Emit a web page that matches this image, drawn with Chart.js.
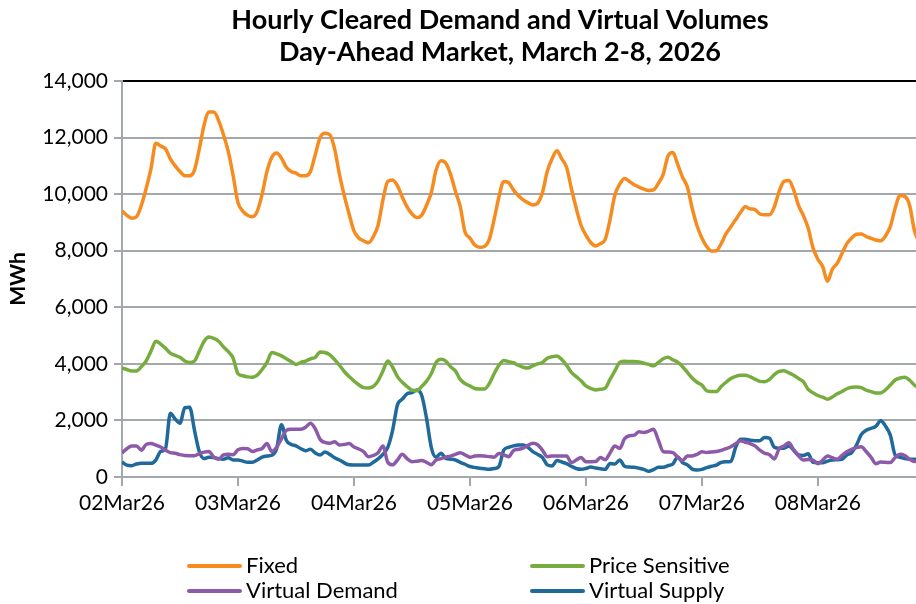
<!DOCTYPE html>
<html>
<head>
<meta charset="utf-8">
<script src="https://cdn.jsdelivr.net/npm/chart.js@4/dist/chart.umd.min.js"></script>
<style>
  html, body { margin: 0; padding: 0; background: #fff; overflow: hidden; }
  #wrap { position: relative; width: 916px; height: 604px; overflow: hidden; }
  #holder { position: absolute; left: 0; top: 0; width: 1000px; height: 604px; }
  .lg { position: absolute; font: 22px Lato, sans-serif; line-height: 26px; color: #000; white-space: nowrap; }
  .lg span.sw { display: inline-block; width: 55px; height: 4px; border-radius: 2px; vertical-align: middle; margin-right: 4px; position: relative; top: -1px; }
</style>
</head>
<body>
<div id="wrap">
  <div id="holder"><canvas id="chart" width="1000" height="604"></canvas></div>
  <div id="legend"></div>
</div>
<script>
// tick labels for each day
var days = ["02Mar26", "03Mar26", "04Mar26", "05Mar26", "06Mar26", "07Mar26", "08Mar26"];
var yTicks = [0, 2000, 4000, 6000, 8000, 10000, 12000, 14000];

// hourly cleared volumes (MWh), one row per day
var fixed = [
  9400, 9250, 9150, 9200, 9600, 10200, 10900, 11800, 11700, 11600, 11250, 11000, 10800, 10650, 10650, 10850, 11600, 12450, 12900, 12900, 12600, 12100, 11500, 10650,
  9700, 9400, 9250, 9200, 9400, 10000, 10800, 11300, 11450, 11270, 10950, 10800, 10740, 10650, 10650, 10800, 11400, 12000, 12150, 12100, 11600, 10700, 9950, 9300,
  8700, 8450, 8350, 8280, 8500, 8900, 9800, 10450, 10500, 10300, 9900, 9550, 9300, 9170, 9250, 9600, 10050, 10850, 11180, 11100, 10700, 10100, 9560, 8650,
  8450, 8200, 8120, 8150, 8400, 9100, 9900, 10450, 10410, 10150, 9950, 9800, 9700, 9620, 9680, 10050, 10800, 11250, 11530, 11250, 10950, 10200, 9500, 8900,
  8550, 8290, 8170, 8250, 8400, 9100, 9970, 10350, 10550, 10450, 10330, 10250, 10180, 10130, 10150, 10380, 10700, 11350, 11470, 11050, 10600, 10250, 9500, 8880,
  8450, 8150, 7990, 8000, 8250, 8600, 8850, 9100, 9350, 9550, 9480, 9450, 9300, 9270, 9270, 9550, 10100, 10450, 10480, 10150, 9600, 9250, 8800, 8100,
  7700, 7440, 6920, 7350, 7550, 7900, 8250, 8450, 8580, 8590, 8500, 8440, 8380, 8350, 8520, 8850, 9500, 9950, 9920, 9600, 8700, 8300, 8000, 7800
];
var priceSensitive = [
  3850, 3800, 3750, 3750, 3900, 4100, 4450, 4800, 4700, 4550, 4380, 4300, 4230, 4100, 4050, 4100, 4450, 4800, 4950, 4900, 4800, 4600, 4430, 4200,
  3650, 3580, 3540, 3530, 3600, 3800, 4050, 4400, 4350, 4280, 4180, 4080, 3980, 4050, 4100, 4180, 4230, 4420, 4400, 4320, 4150, 3950, 3730, 3550,
  3400, 3260, 3160, 3150, 3200, 3400, 3750, 4100, 3880, 3550, 3350, 3200, 3070, 3050, 3200, 3380, 3650, 4050, 4160, 4100, 3900, 3750, 3450, 3300,
  3220, 3130, 3110, 3110, 3300, 3650, 3950, 4120, 4080, 4040, 3950, 3880, 3850, 3930, 4000, 4050, 4200, 4250, 4280, 4150, 3950, 3700, 3550, 3400,
  3220, 3130, 3080, 3100, 3140, 3450, 3750, 4050, 4090, 4080, 4080, 4070, 4020, 3980, 3930, 4050, 4180, 4230, 4140, 4060, 3900, 3700, 3500, 3350,
  3250, 3050, 3020, 3020, 3200, 3350, 3480, 3560, 3600, 3600, 3540, 3460, 3380, 3370, 3450, 3620, 3730, 3760, 3680, 3600, 3480, 3370, 3100, 2980,
  2880, 2820, 2750, 2830, 2940, 3020, 3120, 3170, 3180, 3160, 3070, 3020, 2970, 2970, 3080, 3250, 3430, 3500, 3530, 3420, 3250, 3150, 3100, 3050
];
var virtualDemand = [
  850, 1000, 1100, 1100, 950, 1150, 1180, 1130, 1060, 950, 860, 840, 790, 760, 755, 755, 830, 880, 900, 700, 630, 780, 800, 790,
  960, 1010, 1000, 900, 960, 1010, 1180, 900, 1050, 1350, 1650, 1690, 1690, 1690, 1760, 1900, 1700, 1330, 1220, 1190, 1250, 1130, 1150, 1180,
  1060, 990, 900, 720, 760, 860, 1100, 520, 430, 600, 800, 650, 540, 560, 580, 520, 430, 600, 650, 700, 740, 800, 860, 780,
  700, 740, 750, 743, 720, 700, 830, 780, 720, 930, 980, 1020, 1120, 1190, 1140, 950, 720, 740, 743, 745, 743, 510, 600, 690,
  540, 540, 545, 690, 610, 850, 1100, 1010, 1350, 1460, 1480, 1600, 1570, 1620, 1690, 1300, 900, 880, 860, 700, 580, 740, 745, 800,
  890, 870, 880, 900, 940, 1000, 1070, 1180, 1280, 1230, 1180, 1100, 950, 840, 790, 640, 1000, 1100, 1210, 960, 750, 600, 620, 600,
  470, 600, 740, 680, 630, 760, 890, 980, 1040, 1070, 900, 700, 470, 530, 520, 510, 690, 800, 760, 630, 550, 560, 600, 620
];
var virtualSupply = [
  530, 420, 400, 460, 490, 490, 485, 600, 900, 1000, 2250, 2050, 1900, 2450, 2470, 1650, 900, 650, 700, 690, 650, 630, 680, 600,
  600, 560, 520, 520, 600, 700, 740, 770, 1000, 1850, 1300, 1150, 1100, 1000, 930, 980, 850, 780, 880, 800, 680, 600, 500, 430,
  424, 424, 424, 424, 520, 640, 800, 1050, 1650, 2550, 2750, 2940, 2980, 3080, 2900, 2100, 1050, 700, 840, 660, 630, 600, 520, 450,
  370, 340, 310, 290, 275, 300, 370, 950, 1050, 1100, 1130, 1130, 1050, 900, 800, 690, 430, 390, 580, 530, 470, 380, 300, 272,
  300, 350, 320, 290, 270, 480, 460, 600, 380, 350, 345, 310, 270, 200, 260, 343, 343, 400, 460, 710, 510, 430, 280, 250,
  270, 330, 380, 420, 520, 540, 550, 1050, 1333, 1333, 1300, 1285, 1285, 1400, 1370, 1050, 1015, 1015, 1096, 950, 780, 760, 820, 520,
  506, 506, 560, 600, 610, 626, 780, 860, 1130, 1500, 1650, 1720, 1790, 1990, 1800, 1480, 780, 700, 650, 626, 626, 620, 610, 600
];

var hours = [];
for (var i = 0; i < days.length * 24; i++) hours.push(i);

var gridGrey = "#A2A8AC";

function ds(label, data, color) {
  return {
    label: label,
    data: data,
    borderColor: color,
    backgroundColor: color,
    borderWidth: 3.5,
    pointRadius: 0,
    cubicInterpolationMode: "monotone",
    fill: false
  };
}

var chart = new Chart(document.getElementById("chart"), {
  type: "line",
  data: {
    labels: hours,
    datasets: [
      ds("Fixed", fixed, "#F68B1F"),
      ds("Price Sensitive", priceSensitive, "#77AD3E"),
      ds("Virtual Demand", virtualDemand, "#8C5AA8"),
      ds("Virtual Supply", virtualSupply, "#1F6A9B")
    ]
  },
  options: {
    responsive: false,
    animation: false,
    layout: { padding: { left: 0, right: 0, top: 0, bottom: 82 } },
    plugins: {
      legend: { display: false },
      tooltip: { enabled: false },
      title: {
        display: true,
        text: ["Hourly Cleared Demand and Virtual Volumes", "Day-Ahead Market, March 2-8, 2026"],
        color: "#000",
        font: { family: "Lato", size: 27, weight: "bold", lineHeight: 1.185 },
        padding: { top: 4, bottom: 13 }
      }
    },
    scales: {
      x: {
        type: "linear",
        min: 0,
        max: 181.7,
        afterFit: function(scale) { scale.height = 45; },
        afterBuildTicks: function(scale) {
          scale.ticks = days.map(function(d, k) { return { value: k * 24 }; });
        },
        ticks: {
          color: "#000",
          font: { family: "Lato", size: 21 },
          padding: 5,
          maxRotation: 0,
          autoSkip: false,
          callback: function(v) { return days[v / 24] || ""; }
        },
        grid: { drawOnChartArea: false, drawTicks: true, tickLength: 9, color: gridGrey, lineWidth: 2 },
        border: { display: true, color: gridGrey, width: 2 }
      },
      y: {
        min: 0,
        max: 14000,
        afterFit: function(scale) { scale.width = 122; },
        afterBuildTicks: function(scale) {
          scale.ticks = yTicks.map(function(v) { return { value: v }; });
        },
        ticks: {
          color: "#000",
          font: { family: "Lato", size: 21 },
          padding: 6,
          callback: function(v) { return v.toLocaleString("en-US"); }
        },
        grid: {
          color: function(c) { return c.tick && c.tick.value === 14000 ? "#000" : gridGrey; },
          tickColor: gridGrey,
          lineWidth: 2,
          drawTicks: true,
          tickLength: 8
        },
        border: { display: true, color: gridGrey, width: 2 },
        title: {
          display: true,
          text: "MWh",
          color: "#000",
          font: { family: "Lato", size: 21, weight: "bold" },
          padding: { top: 6, bottom: 0 }
        }
      }
    }
  }
});

// legend in two columns under the plot
var legend = document.getElementById("legend");
var colX = [187, 530], rowY = [552, 577];
chart.data.datasets.forEach(function(d, k) {
  var item = document.createElement("div");
  item.className = "lg";
  item.style.left = colX[k % 2] + "px";
  item.style.top = rowY[Math.floor(k / 2)] + "px";
  item.innerHTML = '<span class="sw" style="background:' + d.borderColor + '"></span>' + d.label;
  legend.appendChild(item);
});
</script>
</body>
</html>
